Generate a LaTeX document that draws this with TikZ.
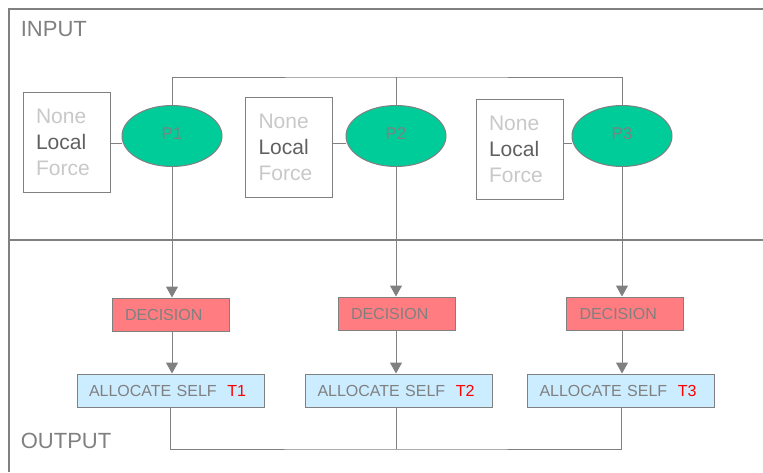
\documentclass[tikz,border=0pt]{standalone}
\usepackage{fontspec}
\setmainfont{Liberation Sans}
\usetikzlibrary{arrows.meta,shapes.geometric}
\definecolor{linegray}{RGB}{128,128,128}
\definecolor{palegray}{RGB}{200,200,200}
\definecolor{darkgray}{RGB}{96,96,96}
\definecolor{procgreen}{RGB}{0,204,153}
\definecolor{decred}{RGB}{255,124,128}
\definecolor{allocblue}{RGB}{204,236,255}
\definecolor{taskred}{RGB}{255,0,0}

\begin{document}
\begin{tikzpicture}[x=1pt,y=-1pt,line width=1pt]
  \tikzstyle{proc}=[ellipse, draw=linegray, fill=procgreen, minimum width=100pt,
minimum height=61pt, inner sep=0pt, text=linegray, font=\fontsize{17}{19}\selectfont]
  \tikzstyle{mode}=[draw=linegray, minimum height=100pt, text width=61pt, inner xsep=13pt,
align=left, font=\fontsize{21}{26}\selectfont]
  \tikzstyle{decide}=[draw=linegray, fill=decred, minimum height=33pt, text width=91pt,
inner xsep=13pt, align=left, text=linegray, font=\fontsize{16}{19}\selectfont]
  \tikzstyle{alloc}=[draw=linegray, fill=allocblue, minimum height=33pt, text width=163pt,
inner xsep=12pt, align=left, text=linegray, font=\fontsize{16}{19}\selectfont]
  \tikzstyle{link}=[draw=linegray]
  \tikzstyle{arrow}=[draw=linegray, -{Triangle[width=12pt,length=11pt]}, color=linegray]
  \useasboundingbox (0,0) rectangle (763,472);

  \draw[linegray, line width=1.3pt] (9,472) -- (9,9) -- (763,9);
  \draw[linegray, line width=1.3pt] (9,240) -- (763,240);
  \node[anchor=west, text=linegray, font=\fontsize{22}{26}\selectfont] (IN) at (17,29) {INPUT};
  \node[anchor=west, text=linegray, font=\fontsize{22}{26}\selectfont] (OUT) at (17,441) {OUTPUT};

  \node[proc] (P_1) at (172,136) {\raisebox{4pt}{P1}};
  \node[proc] (P_2) at (396,136) {\raisebox{4pt}{P2}};
  \node[proc] (P_3) at (622,136) {\raisebox{4pt}{P3}};

  \node[mode] (M_1) at (66.5,142) {\textcolor{palegray}{None}\\\textcolor{darkgray}{Local}\\\textcolor{palegray}{Force}\\[-6pt]};
  \node[mode] (M_2) at (289,147.5) {\textcolor{palegray}{None}\\\textcolor{darkgray}{Local}\\\textcolor{palegray}{Force}\\[-6pt]};
  \node[mode] (M_3) at (519.5,149.5) {\textcolor{palegray}{None}\\\textcolor{darkgray}{Local}\\\textcolor{palegray}{Force}\\[-6pt]};

  \node[decide] (D_1) at (170.5,314.5) {DECISION};
  \node[decide] (D_2) at (396.5,313.5) {DECISION};
  \node[decide] (D_3) at (625,313.5) {DECISION};

  \node[alloc] (A_1) at (170.5,390.5) {ALLOCATE SELF\ \ \textcolor{taskred}{T1}};
  \node[alloc] (A_2) at (399,390.5) {ALLOCATE SELF\ \ \textcolor{taskred}{T2}};
  \node[alloc] (A_3) at (621,390.5) {ALLOCATE SELF\ \ \textcolor{taskred}{T3}};

  \coordinate (topbus) at (396,77);
  \coordinate (botbus) at (396,449);

  \draw[link] ([yshift=-7pt]P_1.west) -- ([yshift=-7pt]P_1.west -| M_1.east);
  \draw[link] ([yshift=-7pt]P_2.west) -- ([yshift=-7pt]P_2.west -| M_2.east);
  \draw[link] ([yshift=-7pt]P_3.west) -- ([yshift=-7pt]P_3.west -| M_3.east);

  \draw[link] (P_1.north) |- (topbus) -| (P_3.north);
  \draw[link] (P_2.north) -- (topbus);

  \draw[arrow] (P_1.south) -- (P_1 |- D_1.north);
  \draw[arrow] (P_2.south) -- (P_2 |- D_2.north);
  \draw[arrow] (P_3.south) -- (P_3 |- D_3.north);

  \draw[arrow] (P_1 |- D_1.south) -- (P_1 |- A_1.north);
  \draw[arrow] (P_2 |- D_2.south) -- (P_2 |- A_2.north);
  \draw[arrow] (P_3 |- D_3.south) -- (P_3 |- A_3.north);

  \draw[link] (A_1.south) |- (botbus) -| (A_3.south);
  \draw[link] (P_2 |- A_2.south) -- (botbus);
\end{tikzpicture}
\end{document}
